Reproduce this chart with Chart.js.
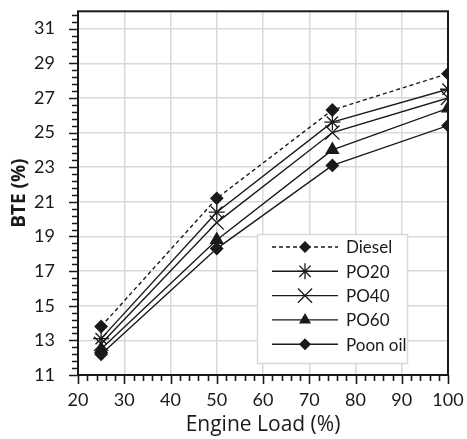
<!DOCTYPE html>
<html>
<head>
<meta charset="utf-8">
<script src="https://cdn.jsdelivr.net/npm/chart.js@4/dist/chart.umd.min.js"></script>
<style>
  html, body { margin: 0; padding: 0; background: #fff; }
  #wrap { width: 467px; height: 439px; }
</style>
</head>
<body>
<div id="wrap"><canvas id="c" width="467" height="439"></canvas></div>
<script>
// Engine load (%) at which brake thermal efficiency was measured
const loads = [25, 50, 75, 100];

// Brake thermal efficiency (%) per fuel
const diesel  = [13.8, 21.2, 26.3, 28.4];
const po20    = [13.1, 20.4, 25.6, 27.5];
const po40    = [12.8, 19.8, 25.0, 27.0];
const po60    = [12.5, 18.8, 24.0, 26.4];
const poonOil = [12.2, 18.3, 23.1, 25.4];

const seriesNames = ['Diesel', 'PO20', 'PO40', 'PO60', 'Poon oil'];

// Axis ticks
const xTickLabels = [20, 30, 40, 50, 60, 70, 80, 90, 100];
const yTickLabels = [11, 13, 15, 17, 19, 21, 23, 25, 27, 29, 31];

const FONT = 'Lato, "Open Sans", "Liberation Sans", sans-serif';
const TITLE_FONT = '"Open Sans", Lato, "Liberation Sans", sans-serif';
const INK = '#1a1a1a';
const GRID = '#d9d9d9';

function pairs(ys) { return loads.map((x, i) => ({ x: x, y: ys[i] })); }

function series(label, data, style, radius, dashed) {
  return {
    label: label,
    data: pairs(data),
    borderColor: INK,
    backgroundColor: INK,
    borderWidth: 1.4,
    borderDash: dashed ? [4, 3] : [],
    pointStyle: style,
    pointRadius: radius,
    pointHoverRadius: radius,
    pointBackgroundColor: INK,
    pointBorderColor: INK,
    pointBorderWidth: 1.3,
    tension: 0,
    fill: false
  };
}

const datasets = [
  series(seriesNames[0], diesel,  'rectRot',  6, true),
  series(seriesNames[1], po20,    'star',     8, false),
  series(seriesNames[2], po40,    'crossRot', 10, false),
  series(seriesNames[3], po60,    'triangle', 7, false),
  series(seriesNames[4], poonOil, 'rectRot',  6, false)
];

// Markers for the in-plot legend
function drawMarker(ctx, style, r, x, y) {
  ctx.save();
  ctx.setLineDash([]);
  ctx.fillStyle = INK;
  ctx.strokeStyle = INK;
  ctx.lineWidth = 1.3;
  ctx.beginPath();
  if (style === 'rectRot') {
    ctx.moveTo(x, y - r); ctx.lineTo(x + r, y); ctx.lineTo(x, y + r); ctx.lineTo(x - r, y);
    ctx.closePath(); ctx.fill();
  } else if (style === 'triangle') {
    for (let k = 0; k < 3; k++) {
      const a = -Math.PI / 2 + k * 2 * Math.PI / 3;
      const px = x + r * Math.cos(a), py = y + r * Math.sin(a);
      if (k === 0) ctx.moveTo(px, py); else ctx.lineTo(px, py);
    }
    ctx.closePath(); ctx.fill();
  } else {
    const d = r * Math.SQRT1_2;
    ctx.moveTo(x - d, y - d); ctx.lineTo(x + d, y + d);
    ctx.moveTo(x + d, y - d); ctx.lineTo(x - d, y + d);
    if (style === 'star') {
      ctx.moveTo(x, y - r); ctx.lineTo(x, y + r);
      ctx.moveTo(x - r, y); ctx.lineTo(x + r, y);
    }
    ctx.stroke();
  }
  ctx.restore();
}

// Frame, minor/major tick marks outside the plot area
const framePlugin = {
  id: 'frame',
  afterDatasetsDraw(chart) {
    const { ctx, chartArea: a, scales } = chart;
    ctx.save();
    ctx.strokeStyle = INK;
    ctx.lineWidth = 2;
    ctx.setLineDash([]);
    ctx.strokeRect(a.left, a.top, a.right - a.left, a.bottom - a.top);

    ctx.lineWidth = 1.6;
    ctx.beginPath();
    // y ticks every 0.4 from 11
    for (let k = 0; ; k++) {
      const v = 11 + k * 0.4;
      if (v > 32.001) break;
      const py = Math.round(scales.y.getPixelForValue(v)) + 0.5;
      const major = Math.abs((v - 11) / 2 - Math.round((v - 11) / 2)) < 1e-6;
      ctx.moveTo(a.left, py);
      ctx.lineTo(a.left - (major ? 9 : 6), py);
    }
    // x ticks every 2 from 20
    for (let v = 20; v <= 100; v += 2) {
      const px = Math.round(scales.x.getPixelForValue(v)) + 0.5;
      const major = v % 10 === 0;
      ctx.moveTo(px, a.bottom);
      ctx.lineTo(px, a.bottom + (major ? 9 : 6));
    }
    ctx.stroke();
    ctx.restore();
  }
};

// Legend box drawn inside the plot, lower right
const legendPlugin = {
  id: 'inlineLegend',
  afterDraw(chart) {
    const { ctx } = chart;
    const box = { x: 257, y: 234, w: 150, h: 129 };
    ctx.save();
    ctx.fillStyle = '#fff';
    ctx.fillRect(box.x, box.y, box.w, box.h);
    ctx.strokeStyle = GRID;
    ctx.lineWidth = 1.5;
    ctx.strokeRect(box.x + 0.5, box.y + 0.5, box.w, box.h);

    chart.data.datasets.forEach((ds, i) => {
      const y = box.y + 13 + i * 24.3;
      ctx.strokeStyle = INK;
      ctx.lineWidth = 1.4;
      ctx.setLineDash(ds.borderDash || []);
      ctx.beginPath();
      ctx.moveTo(272, y);
      ctx.lineTo(338, y);
      ctx.stroke();
      drawMarker(ctx, ds.pointStyle, ds.pointRadius, 305, y);
      ctx.setLineDash([]);
      ctx.fillStyle = INK;
      ctx.font = '17px ' + FONT;
      ctx.textBaseline = 'middle';
      ctx.textAlign = 'left';
      ctx.fillText(ds.label, 346, y + 1);
    });
    ctx.restore();
  }
};

new Chart(document.getElementById('c'), {
  type: 'line',
  data: { datasets: datasets },
  plugins: [framePlugin, legendPlugin],
  options: {
    responsive: false,
    animation: false,
    layout: { padding: { top: 10, right: 19, left: 0, bottom: 0 } },
    plugins: { legend: { display: false }, tooltip: { enabled: false } },
    scales: {
      x: {
        type: 'linear',
        min: 20,
        max: 100,
        afterBuildTicks: (s) => { s.ticks = xTickLabels.map(v => ({ value: v })); },
        afterFit: (s) => { s.height = 64; s.paddingLeft = 0; s.paddingRight = 0; },
        grid: { color: GRID, lineWidth: 1.5, drawTicks: false },
        border: { display: false },
        ticks: { color: INK, font: { family: FONT, size: 18 }, padding: 14, maxRotation: 0, autoSkip: false },
        title: { display: true, text: 'Engine Load (%)', color: INK,
                 font: { family: TITLE_FONT, size: 21 }, padding: { top: 0, bottom: 1 } }
      },
      y: {
        type: 'linear',
        min: 11,
        max: 32,
        afterBuildTicks: (s) => { s.ticks = yTickLabels.map(v => ({ value: v })); },
        afterFit: (s) => { s.width = 78; s.paddingTop = 0; s.paddingBottom = 0; },
        grid: { color: GRID, lineWidth: 1.5, drawTicks: false },
        border: { display: false },
        ticks: { color: INK, font: { family: FONT, size: 18 }, padding: 23, autoSkip: false },
        title: { display: true, text: 'BTE (%)', color: INK,
                 font: { family: TITLE_FONT, size: 19, weight: 'bold' }, padding: { top: 8, bottom: 0 } }
      }
    }
  }
});
</script>
</body>
</html>
